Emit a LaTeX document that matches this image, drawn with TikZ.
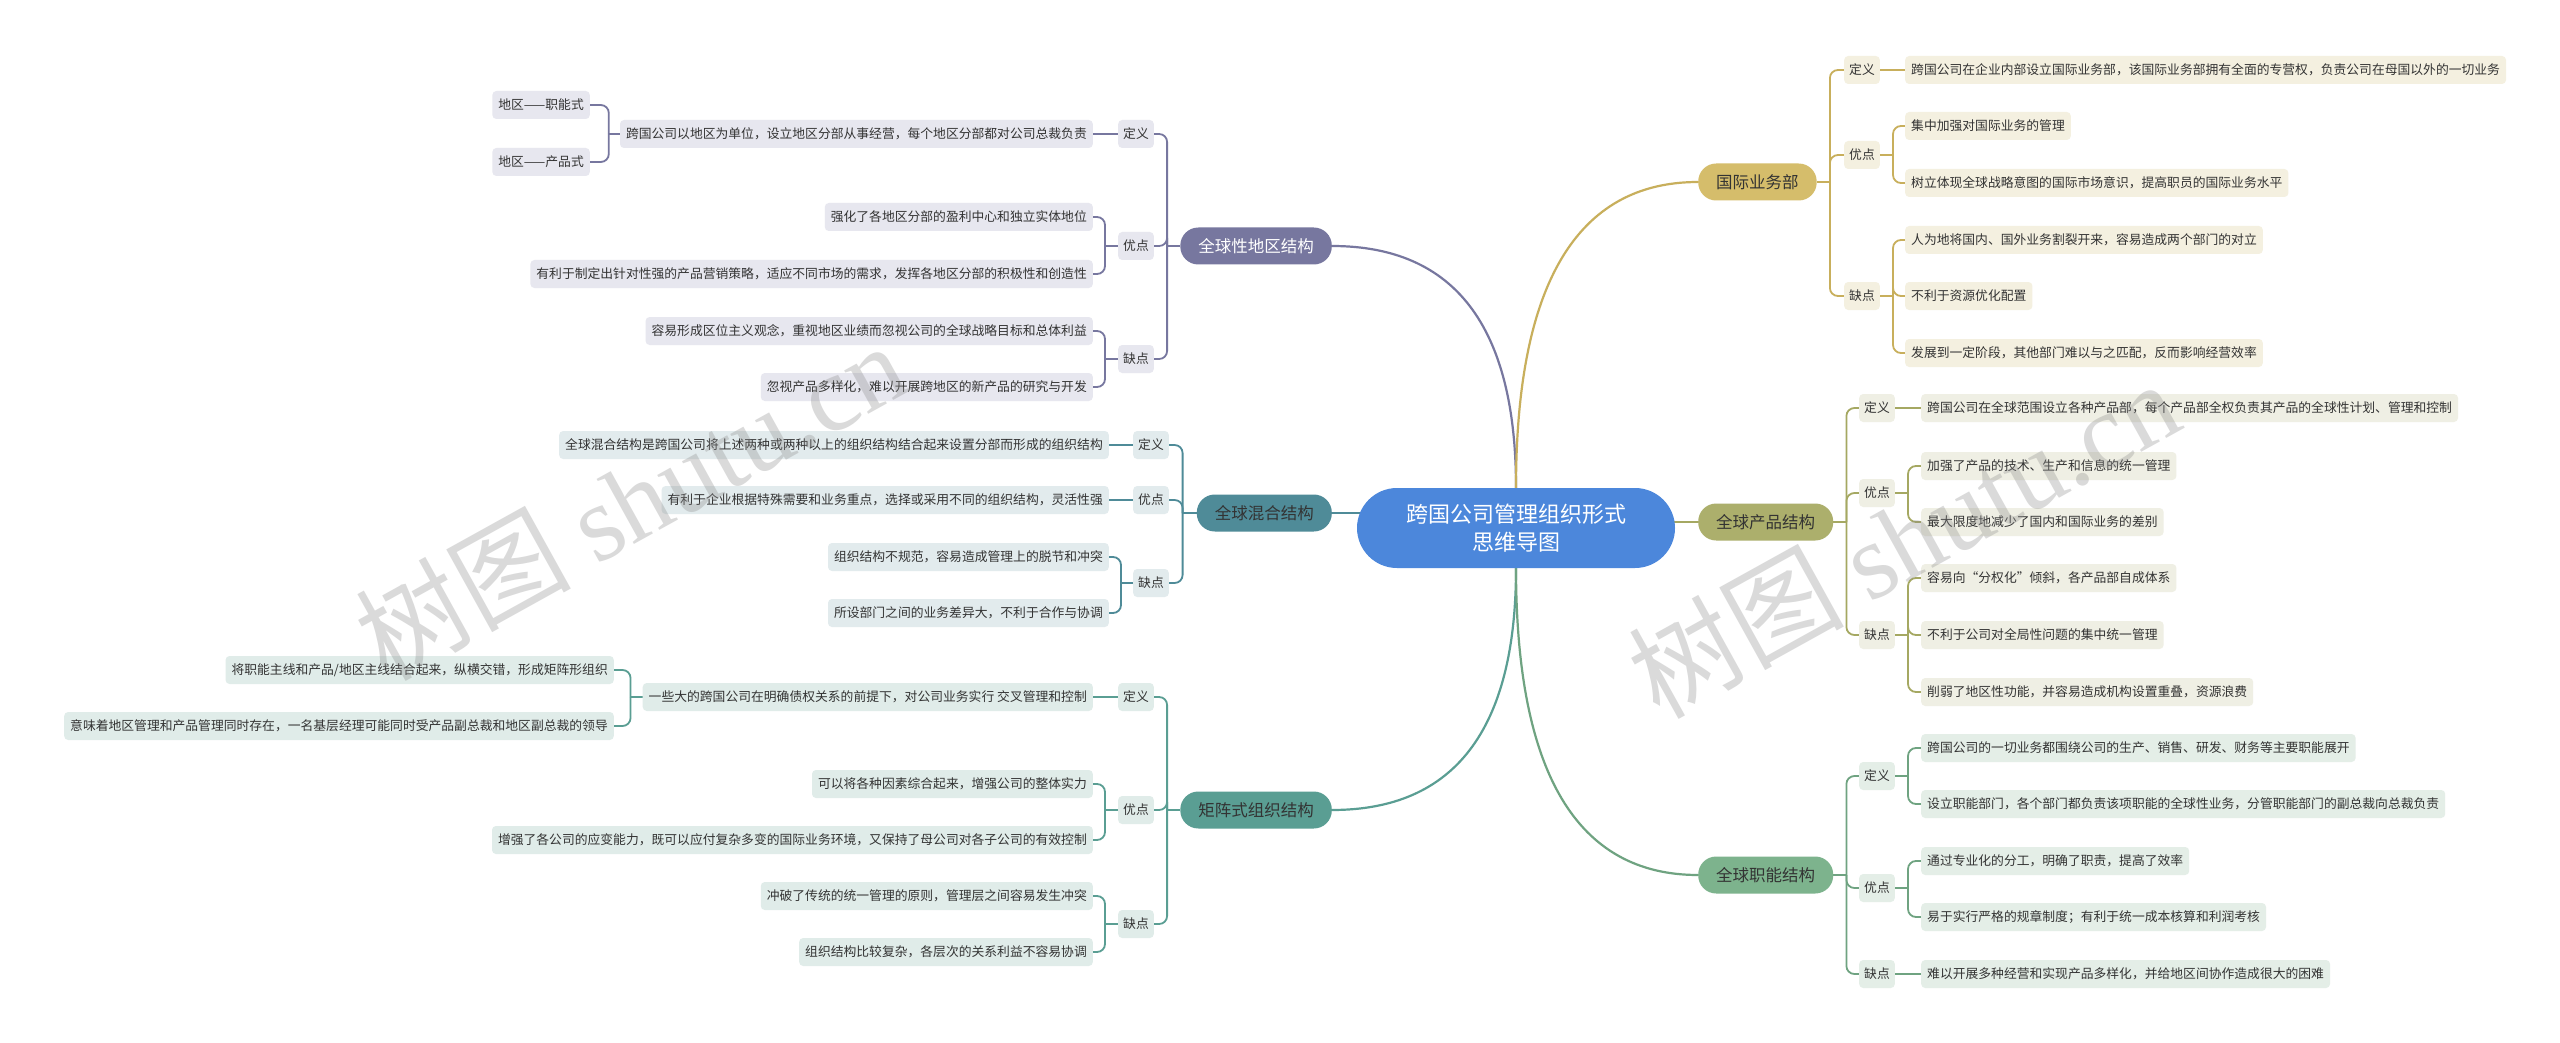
\documentclass[tikz,border=0pt]{standalone}
\usepackage{fontspec}
\setmainfont{Noto Sans CJK SC}
\newfontfamily\wmfont{Liberation Serif}
\usepackage{xcolor}
\usepackage{tikz}
\usetikzlibrary{backgrounds}

\definecolor{txt}{HTML}{333333}
\definecolor{rootblue}{HTML}{4C87DB}
\definecolor{geoC}{HTML}{77779F}
\definecolor{geoL}{HTML}{E7E7EF}
\definecolor{mixC}{HTML}{4F8B98}
\definecolor{mixL}{HTML}{E2EBED}
\definecolor{matC}{HTML}{5A9E93}
\definecolor{matL}{HTML}{E0ECE9}
\definecolor{intlC}{HTML}{D5BD6B}
\definecolor{intlW}{HTML}{C8AF5C}
\definecolor{intlL}{HTML}{F4F0E0}
\definecolor{prodC}{HTML}{ACAF6C}
\definecolor{prodW}{HTML}{A5A862}
\definecolor{prodL}{HTML}{EFEFE4}
\definecolor{funcC}{HTML}{7DB38D}
\definecolor{funcW}{HTML}{6FA381}
\definecolor{funcL}{HTML}{E4EEE7}

\begin{document}
\begin{tikzpicture}[x=1pt,y=-1pt,
  leaf/.style={rounded corners=4pt,inner xsep=6pt,inner ysep=0pt,minimum height=28pt,text=txt,font=\fontsize{12.8}{15}\selectfont},
  sublabel/.style={leaf,inner xsep=5pt},
  topic/.style={rounded corners=18pt,minimum height=37pt,inner xsep=18pt,text=txt,font=\fontsize{16.5}{19}\selectfont},
  conn/.style={line width=1.8pt,rounded corners=8pt},
  trunk/.style={line width=2.2pt},
  wm/.style={text=black!45,text opacity=0.32,font=\fontsize{108}{108}\selectfont}]
\useasboundingbox (0,0) rectangle (2560,1043);

% root
\node[fill=rootblue,text=white,rounded corners=40pt,minimum width=318pt,minimum height=80pt,align=center,font=\fontsize{22}{28}\selectfont] (root) at (1516,528) {跨国公司管理组织形式\\思维导图};

% 全球性地区结构
\node[topic,fill=geoC,text=white,anchor=east] (geo) at (1332,246) {全球性地区结构};
\node[sublabel,fill=geoL,anchor=east] (geoD) at (1154,134) {定义};
\node[sublabel,fill=geoL,anchor=east] (geoY) at (1154,246) {优点};
\node[sublabel,fill=geoL,anchor=east] (geoQ) at (1154,359) {缺点};
\node[leaf,fill=geoL,anchor=east] (geoD1) at (1093,134) {跨国公司以地区为单位，设立地区分部从事经营，每个地区分部都对公司总裁负责};
\node[leaf,fill=geoL,anchor=east] (geoD1a) at (590,105) {地区——职能式};
\node[leaf,fill=geoL,anchor=east] (geoD1b) at (590,162) {地区——产品式};
\node[leaf,fill=geoL,anchor=east] (geoY1) at (1093,217) {强化了各地区分部的盈利中心和独立实体地位};
\node[leaf,fill=geoL,anchor=east] (geoY2) at (1093,274) {有利于制定出针对性强的产品营销策略，适应不同市场的需求，发挥各地区分部的积极性和创造性};
\node[leaf,fill=geoL,anchor=east] (geoQ1) at (1093,331) {容易形成区位主义观念，重视地区业绩而忽视公司的全球战略目标和总体利益};
\node[leaf,fill=geoL,anchor=east] (geoQ2) at (1093,387) {忽视产品多样化，难以开展跨地区的新产品的研究与开发};

% 全球混合结构
\node[topic,fill=mixC,anchor=east] (mix) at (1332,513) {全球混合结构};
\node[sublabel,fill=mixL,anchor=east] (mixD) at (1169,445) {定义};
\node[sublabel,fill=mixL,anchor=east] (mixY) at (1169,500) {优点};
\node[sublabel,fill=mixL,anchor=east] (mixQ) at (1169,583) {缺点};
\node[leaf,fill=mixL,anchor=east] (mixD1) at (1109,445) {全球混合结构是跨国公司将上述两种或两种以上的组织结构结合起来设置分部而形成的组织结构};
\node[leaf,fill=mixL,anchor=east] (mixY1) at (1109,500) {有利于企业根据特殊需要和业务重点，选择或采用不同的组织结构，灵活性强};
\node[leaf,fill=mixL,anchor=east] (mixQ1) at (1109,557) {组织结构不规范，容易造成管理上的脱节和冲突};
\node[leaf,fill=mixL,anchor=east] (mixQ2) at (1109,613) {所设部门之间的业务差异大，不利于合作与协调};

% 矩阵式组织结构
\node[topic,fill=matC,anchor=east] (mat) at (1332,810) {矩阵式组织结构};
\node[sublabel,fill=matL,anchor=east] (matD) at (1154,697) {定义};
\node[sublabel,fill=matL,anchor=east] (matY) at (1154,810) {优点};
\node[sublabel,fill=matL,anchor=east] (matQ) at (1154,924) {缺点};
\node[leaf,fill=matL,anchor=east] (matD1) at (1093,697) {一些大的跨国公司在明确债权关系的前提下，对公司业务实行 交叉管理和控制};
\node[leaf,fill=matL,anchor=east] (matD1a) at (614,670) {将职能主线和产品/地区主线结合起来，纵横交错，形成矩阵形组织};
\node[leaf,fill=matL,anchor=east] (matD1b) at (614,726) {意味着地区管理和产品管理同时存在，一名基层经理可能同时受产品副总裁和地区副总裁的领导};
\node[leaf,fill=matL,anchor=east] (matY1) at (1093,784) {可以将各种因素综合起来，增强公司的整体实力};
\node[leaf,fill=matL,anchor=east] (matY2) at (1093,840) {增强了各公司的应变能力，既可以应付复杂多变的国际业务环境，又保持了母公司对各子公司的有效控制};
\node[leaf,fill=matL,anchor=east] (matQ1) at (1093,896) {冲破了传统的统一管理的原则，管理层之间容易发生冲突};
\node[leaf,fill=matL,anchor=east] (matQ2) at (1093,952) {组织结构比较复杂，各层次的关系利益不容易协调};

% 国际业务部
\node[topic,fill=intlC,anchor=west] (intl) at (1698,182) {国际业务部};
\node[sublabel,fill=intlL,anchor=west] (intlD) at (1844,70) {定义};
\node[sublabel,fill=intlL,anchor=west] (intlY) at (1844,155) {优点};
\node[sublabel,fill=intlL,anchor=west] (intlQ) at (1844,296) {缺点};
\node[leaf,fill=intlL,anchor=west] (intlD1) at (1905,70) {跨国公司在企业内部设立国际业务部，该国际业务部拥有全面的专营权，负责公司在母国以外的一切业务};
\node[leaf,fill=intlL,anchor=west] (intlY1) at (1905,126) {集中加强对国际业务的管理};
\node[leaf,fill=intlL,anchor=west] (intlY2) at (1905,183) {树立体现全球战略意图的国际市场意识，提高职员的国际业务水平};
\node[leaf,fill=intlL,anchor=west] (intlQ1) at (1905,240) {人为地将国内、国外业务割裂开来，容易造成两个部门的对立};
\node[leaf,fill=intlL,anchor=west] (intlQ2) at (1905,296) {不利于资源优化配置};
\node[leaf,fill=intlL,anchor=west] (intlQ3) at (1905,353) {发展到一定阶段，其他部门难以与之匹配，反而影响经营效率};

% 全球产品结构
\node[topic,fill=prodC,anchor=west] (prod) at (1698,522) {全球产品结构};
\node[sublabel,fill=prodL,anchor=west] (prodD) at (1859,408) {定义};
\node[sublabel,fill=prodL,anchor=west] (prodY) at (1859,493) {优点};
\node[sublabel,fill=prodL,anchor=west] (prodQ) at (1859,635) {缺点};
\node[leaf,fill=prodL,anchor=west] (prodD1) at (1921,408) {跨国公司在全球范围设立各种产品部，每个产品部全权负责其产品的全球性计划、管理和控制};
\node[leaf,fill=prodL,anchor=west] (prodY1) at (1921,466) {加强了产品的技术、生产和信息的统一管理};
\node[leaf,fill=prodL,anchor=west] (prodY2) at (1921,522) {最大限度地减少了国内和国际业务的差别};
\node[leaf,fill=prodL,anchor=west] (prodQ1) at (1921,578) {容易向“分权化”倾斜，各产品部自成体系};
\node[leaf,fill=prodL,anchor=west] (prodQ2) at (1921,635) {不利于公司对全局性问题的集中统一管理};
\node[leaf,fill=prodL,anchor=west] (prodQ3) at (1921,692) {削弱了地区性功能，并容易造成机构设置重叠，资源浪费};

% 全球职能结构
\node[topic,fill=funcC,anchor=west] (func) at (1698,875) {全球职能结构};
\node[sublabel,fill=funcL,anchor=west] (funcD) at (1859,776) {定义};
\node[sublabel,fill=funcL,anchor=west] (funcY) at (1859,888) {优点};
\node[sublabel,fill=funcL,anchor=west] (funcQ) at (1859,974) {缺点};
\node[leaf,fill=funcL,anchor=west] (funcD1) at (1921,748) {跨国公司的一切业务都围绕公司的生产、销售、研发、财务等主要职能展开};
\node[leaf,fill=funcL,anchor=west] (funcD2) at (1921,804) {设立职能部门，各个部门都负责该项职能的全球性业务，分管职能部门的副总裁向总裁负责};
\node[leaf,fill=funcL,anchor=west] (funcY1) at (1921,861) {通过专业化的分工，明确了职责，提高了效率};
\node[leaf,fill=funcL,anchor=west] (funcY2) at (1921,917) {易于实行严格的规章制度；有利于统一成本核算和利润考核};
\node[leaf,fill=funcL,anchor=west] (funcQ1) at (1921,974) {难以开展多种经营和实现产品多样化，并给地区间协作造成很大的困难};

\begin{pgfonlayer}{background}
\fill[white] (0,0) rectangle (2560,1043);
% left side
\begin{scope}[geoC]
\draw[trunk] (root.north) .. controls +(0,-161) and +(123,0) .. (geo.east);
\draw[conn] (geo.west) -- ++(-13,0) coordinate (geoS);
\foreach \n in {geoD,geoY,geoQ} \draw[conn] (geoS) |- (\n.east);
\draw[conn] (geoD.west) -- (geoD1.east);
\draw[conn] (geoD1.west) -- ++(-11,0) coordinate (geoD1S);
\foreach \n in {geoD1a,geoD1b} \draw[conn] (geoD1S) |- (\n.east);
\draw[conn] (geoY.west) -- ++(-13,0) coordinate (geoYS);
\foreach \n in {geoY1,geoY2} \draw[conn] (geoYS) |- (\n.east);
\draw[conn] (geoQ.west) -- ++(-13,0) coordinate (geoQS);
\foreach \n in {geoQ1,geoQ2} \draw[conn] (geoQS) |- (\n.east);
\end{scope}
\begin{scope}[mixC]
\draw[trunk] (mix.east) -- (mix.east -| root);
\draw[conn] (mix.west) -- ++(-14,0) coordinate (mixS);
\foreach \n in {mixD,mixY,mixQ} \draw[conn] (mixS) |- (\n.east);
\draw[conn] (mixD.west) -- (mixD1.east);
\draw[conn] (mixY.west) -- (mixY1.east);
\draw[conn] (mixQ.west) -- ++(-12,0) coordinate (mixQS);
\foreach \n in {mixQ1,mixQ2} \draw[conn] (mixQS) |- (\n.east);
\end{scope}
\begin{scope}[matC]
\draw[trunk] (root.south) .. controls +(0,161) and +(123,0) .. (mat.east);
\draw[conn] (mat.west) -- ++(-13,0) coordinate (matS);
\foreach \n in {matD,matY,matQ} \draw[conn] (matS) |- (\n.east);
\draw[conn] (matD.west) -- (matD1.east);
\draw[conn] (matD1.west) -- ++(-12,0) coordinate (matD1S);
\foreach \n in {matD1a,matD1b} \draw[conn] (matD1S) |- (\n.east);
\draw[conn] (matY.west) -- ++(-13,0) coordinate (matYS);
\foreach \n in {matY1,matY2} \draw[conn] (matYS) |- (\n.east);
\draw[conn] (matQ.west) -- ++(-13,0) coordinate (matQS);
\foreach \n in {matQ1,matQ2} \draw[conn] (matQS) |- (\n.east);
\end{scope}
% right side
\begin{scope}[intlW]
\draw[trunk] (root.north) .. controls +(0,-204) and +(-121,0) .. (intl.west);
\draw[conn] (intl.east) -- ++(13,0) coordinate (intlS);
\foreach \n in {intlD,intlY,intlQ} \draw[conn] (intlS) |- (\n.west);
\draw[conn] (intlD.east) -- (intlD1.west);
\draw[conn] (intlY.east) -- ++(13,0) coordinate (intlYS);
\foreach \n in {intlY1,intlY2} \draw[conn] (intlYS) |- (\n.west);
\draw[conn] (intlQ.east) -- ++(13,0) coordinate (intlQS);
\foreach \n in {intlQ1,intlQ2,intlQ3} \draw[conn] (intlQS) |- (\n.west);
\end{scope}
\begin{scope}[prodW]
\draw[trunk] (prod.west) -- (prod.west -| root);
\draw[conn] (prod.east) -- ++(13,0) coordinate (prodS);
\foreach \n in {prodD,prodY,prodQ} \draw[conn] (prodS) |- (\n.west);
\draw[conn] (prodD.east) -- (prodD1.west);
\draw[conn] (prodY.east) -- ++(13,0) coordinate (prodYS);
\foreach \n in {prodY1,prodY2} \draw[conn] (prodYS) |- (\n.west);
\draw[conn] (prodQ.east) -- ++(13,0) coordinate (prodQS);
\foreach \n in {prodQ1,prodQ2,prodQ3} \draw[conn] (prodQS) |- (\n.west);
\end{scope}
\begin{scope}[funcW]
\draw[trunk] (root.south) .. controls +(0,205) and +(-121,0) .. (func.west);
\draw[conn] (func.east) -- ++(13,0) coordinate (funcS);
\foreach \n in {funcD,funcY,funcQ} \draw[conn] (funcS) |- (\n.west);
\draw[conn] (funcD.east) -- ++(13,0) coordinate (funcDS);
\foreach \n in {funcD1,funcD2} \draw[conn] (funcDS) |- (\n.west);
\draw[conn] (funcY.east) -- ++(13,0) coordinate (funcYS);
\foreach \n in {funcY1,funcY2} \draw[conn] (funcYS) |- (\n.west);
\draw[conn] (funcQ.east) -- (funcQ1.west);
\end{scope}
\end{pgfonlayer}

% watermark
\node[wm,rotate=29] (wmL) at (630,500) {树图 {\wmfont shutu.cn}};
\node[wm,rotate=29] (wmR) at (1903,538) {树图 {\wmfont shutu.cn}};
\end{tikzpicture}
\end{document}
